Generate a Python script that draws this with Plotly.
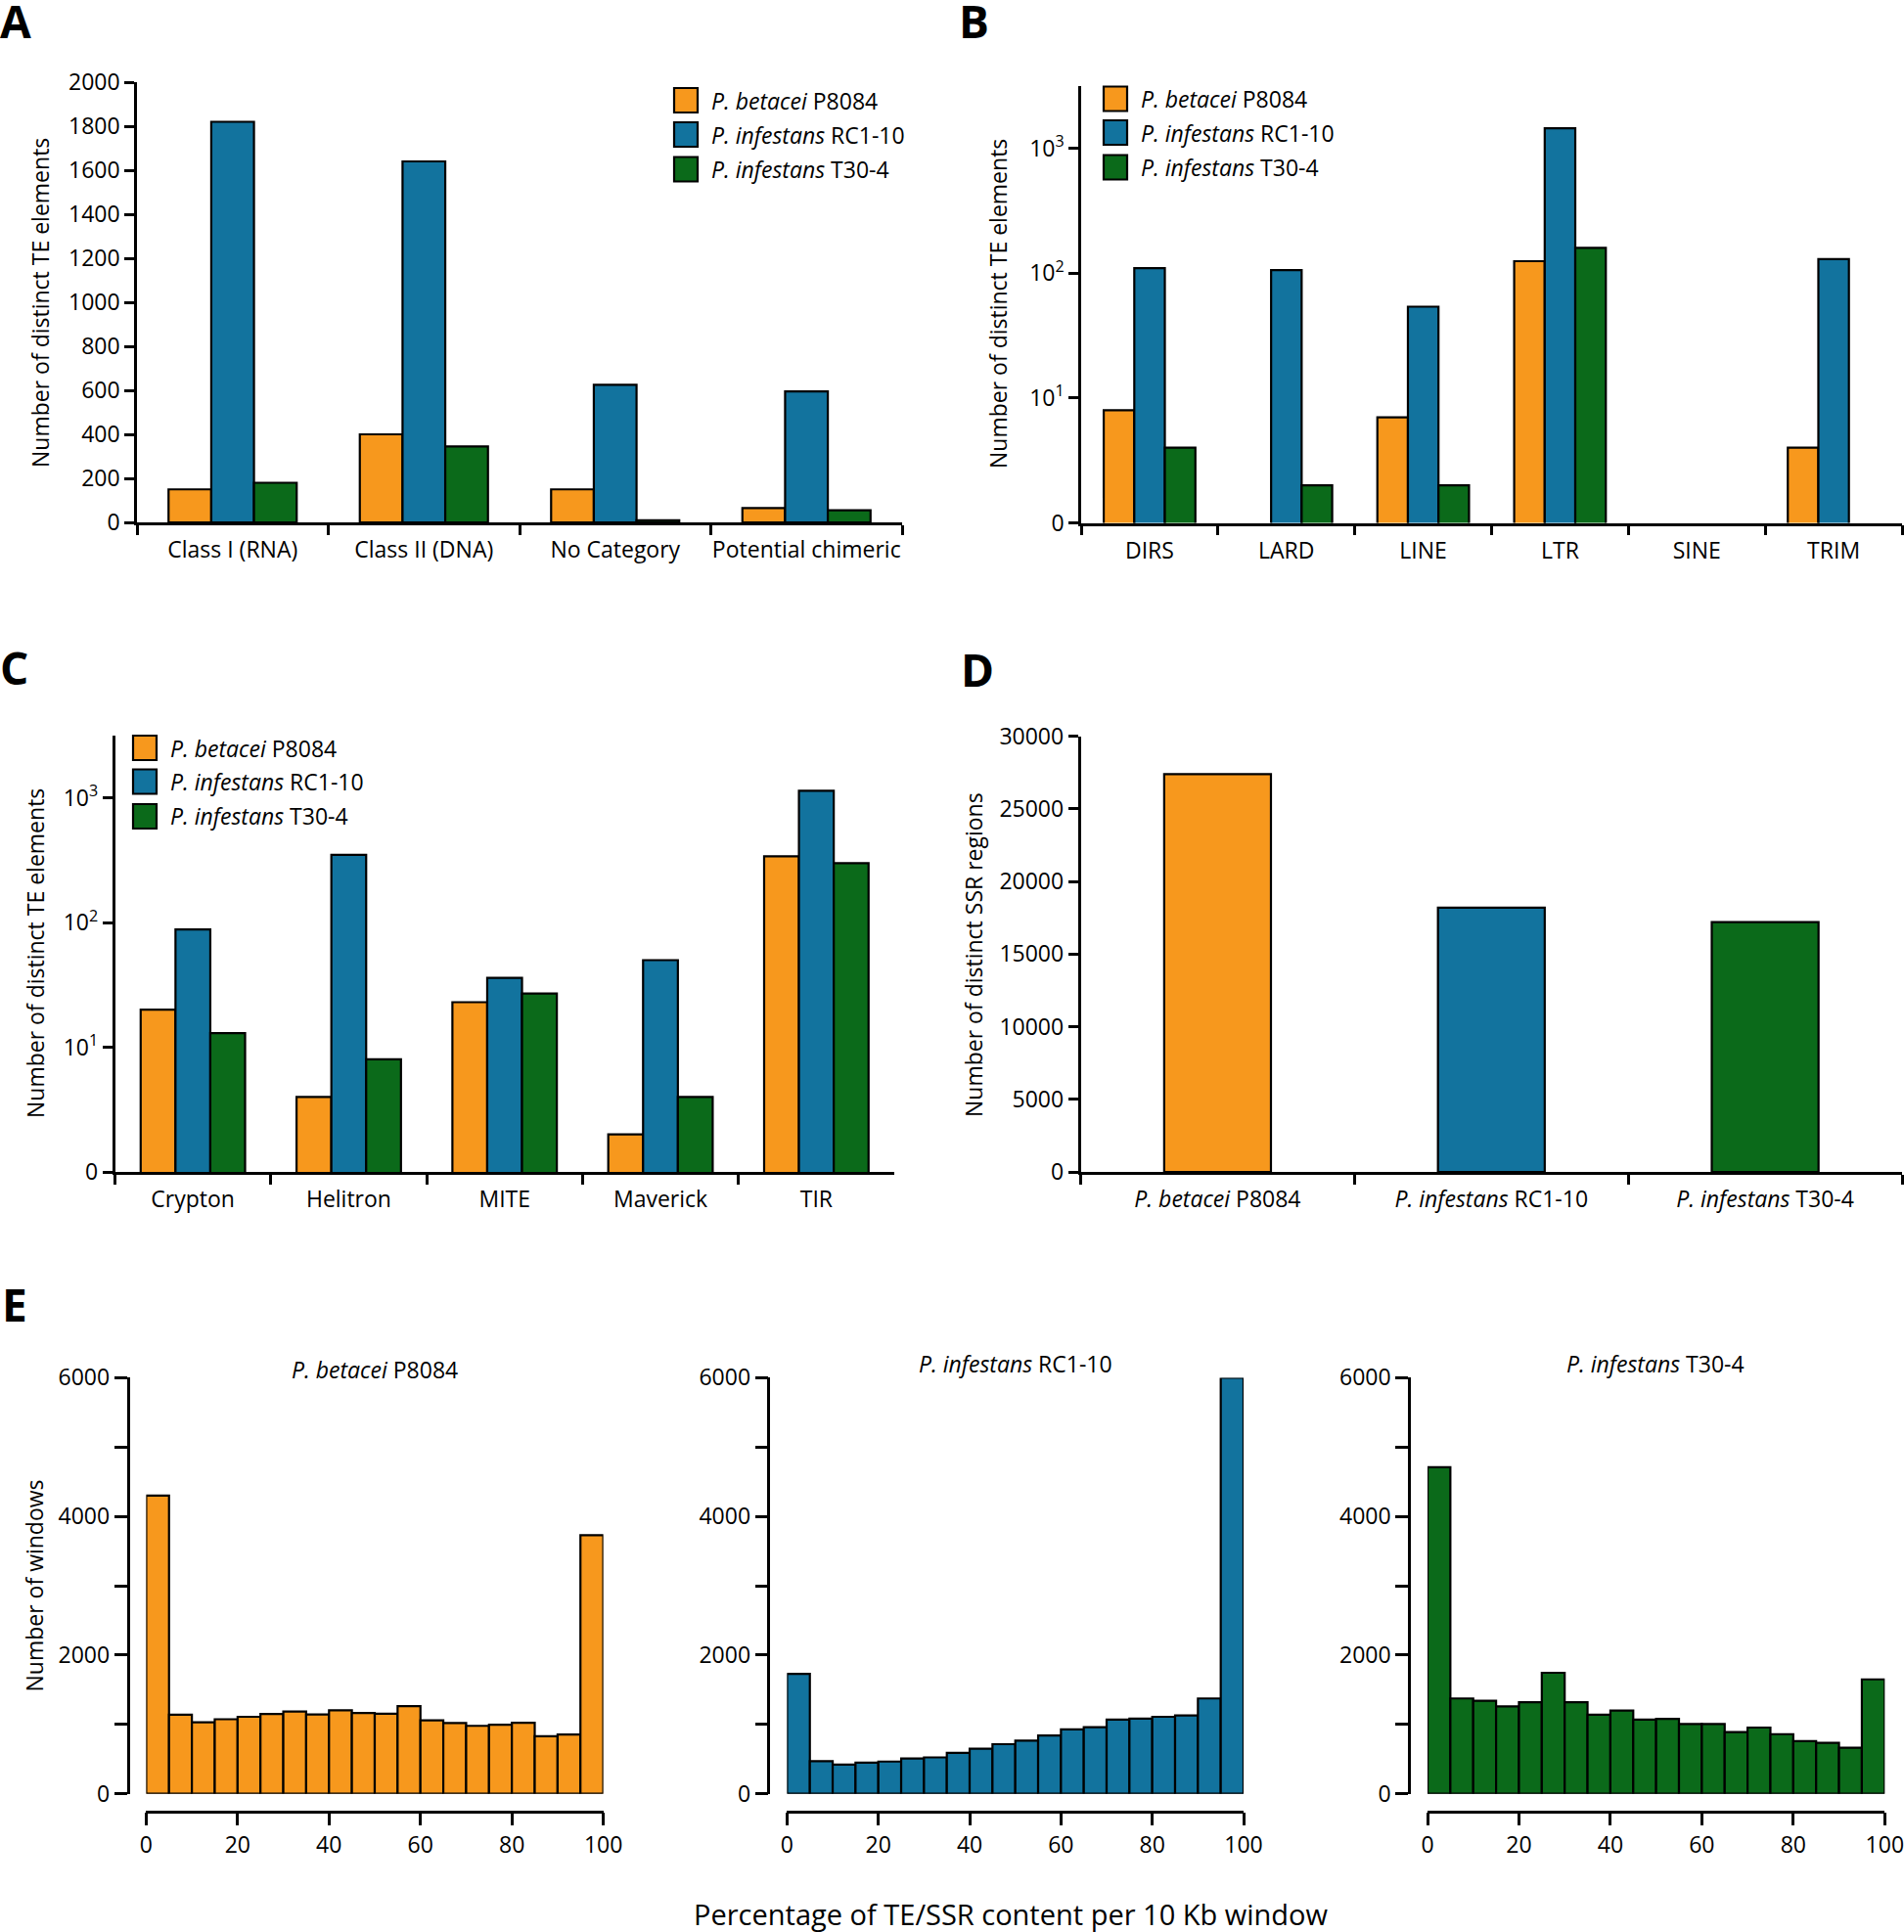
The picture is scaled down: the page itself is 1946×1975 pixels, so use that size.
import plotly.graph_objects as go

W, H = 1946, 1975
FONT = "Open Sans"
FS = 23

# ---------------- data ----------------
series_names = ["<i>P. betacei</i> P8084", "<i>P. infestans</i> RC1-10", "<i>P. infestans</i> T30-4"]
colors = ["#F7981D", "#12739E", "#0B6A1A"]

a_categories = ["Class I (RNA)", "Class II (DNA)", "No Category", "Potential chimeric"]
a_betacei = [150, 400, 150, 65]
a_rc110 = [1820, 1640, 625, 595]
a_t304 = [180, 345, 10, 55]

b_categories = ["DIRS", "LARD", "LINE", "LTR", "SINE", "TRIM"]
b_betacei = [8, None, 7, 125, None, 4]
b_rc110 = [110, 106, 54, 1450, None, 130]
b_t304 = [4, 2, 2, 160, None, None]

c_categories = ["Crypton", "Helitron", "MITE", "Maverick", "TIR"]
c_betacei = [20, 4, 23, 2, 340]
c_rc110 = [88, 350, 36, 50, 1140]
c_t304 = [13, 8, 27, 4, 300]

d_categories = ["P. betacei P8084", "P. infestans RC1-10", "P. infestans T30-4"]
d_labels = ["<i>P. betacei</i> P8084", "<i>P. infestans</i> RC1-10", "<i>P. infestans</i> T30-4"]
d_values = [27400, 18200, 17200]

e_bin_starts = [0, 5, 10, 15, 20, 25, 30, 35, 40, 45, 50, 55, 60, 65, 70, 75, 80, 85, 90, 95]
e_bin_width = 5
e_betacei = [4300, 1140, 1030, 1075, 1110, 1150, 1185, 1145, 1205, 1165, 1155, 1265,
             1060, 1020, 980, 995, 1025, 830, 855, 3730]
e_rc110 = [1730, 470, 420, 450, 465, 510, 525, 590, 650, 715, 765, 840,
           930, 960, 1070, 1085, 1110, 1130, 1375, 6000]
e_t304 = [4710, 1375, 1340, 1260, 1320, 1745, 1320, 1140, 1200, 1070, 1080, 1005,
          1005, 890, 955, 860, 760, 735, 665, 1650]
e_titles = ["<i>P. betacei</i> P8084", "<i>P. infestans</i> RC1-10", "<i>P. infestans</i> T30-4"]

log_tickvals = [1, 10, 100, 1000]
log_ticktext = ["0", "10<sup>1</sup>", "10<sup>2</sup>", "10<sup>3</sup>"]


def fx(px):
    return px / W


def fy(py):
    return 1 - py / H


fig = go.Figure()
OUT = dict(color="black", width=2.2)

# Panels A-C grouped bars
for (ax, cats, vals) in [
    ("1", a_categories, [a_betacei, a_rc110, a_t304]),
    ("2", b_categories, [b_betacei, b_rc110, b_t304]),
    ("3", c_categories, [c_betacei, c_rc110, c_t304]),
]:
    for name, col, v in zip(series_names, colors, vals):
        fig.add_trace(go.Bar(
            x=cats, y=v, name=name, marker=dict(color=col, line=OUT),
            xaxis="x" if ax == "1" else "x" + ax,
            yaxis="y" if ax == "1" else "y" + ax,
            showlegend=False,
        ))

# Panel D
fig.add_trace(go.Bar(
    x=d_categories, y=d_values, width=0.39,
    marker=dict(color=colors, line=OUT),
    xaxis="x4", yaxis="y4", showlegend=False,
))

# Panel E histograms
for i, (vals, col) in enumerate(zip([e_betacei, e_rc110, e_t304], colors)):
    fig.add_trace(go.Bar(
        x=e_bin_starts, y=vals, width=e_bin_width, offset=0,
        marker=dict(color=col, line=OUT),
        xaxis="x%d" % (5 + i), yaxis="y%d" % (5 + i), showlegend=False,
    ))

tickfont = dict(size=FS, color="black", family=FONT)
base_axis = dict(showline=True, linewidth=2.5, linecolor="black", ticks="outside",
                 tickwidth=2.5, ticklen=10, tickcolor="black", showgrid=False,
                 zeroline=False, tickfont=tickfont, fixedrange=True,
                 automargin=False, tickangle=0, ticklabeloverflow="allow")


def cat_axis(cats, x0, x1, anchor, ticktext=None):
    d = dict(base_axis, type="category", categoryorder="array", categoryarray=cats,
             tickson="boundaries", range=[-0.5, len(cats) - 0.5],
             ticklabelstandoff=6,
             domain=[fx(x0), fx(x1)], anchor=anchor)
    if ticktext is not None:
        d.update(tickmode="array", tickvals=cats, ticktext=ticktext)
    return d


layout = dict(
    width=W, height=H, margin=dict(l=0, r=0, t=0, b=0, pad=0, autoexpand=False),
    paper_bgcolor="white", plot_bgcolor="white",
    barmode="group", bargap=0.33, bargroupgap=0,
    font=dict(family=FONT, color="black", size=FS),
    showlegend=False,
)

# A
layout["xaxis"] = cat_axis(a_categories, 140, 922, "y")
layout["yaxis"] = dict(base_axis, range=[0, 2000], tickmode="linear", tick0=0, dtick=200,
                       domain=[fy(534), fy(84)], anchor="x")
# B
layout["xaxis2"] = cat_axis(b_categories, 1105, 1944, "y2")
layout["yaxis2"] = dict(base_axis, type="log", range=[0, 3.5], tickmode="array",
                        tickvals=log_tickvals, ticktext=log_ticktext,
                        domain=[fy(534.5), fy(88)], anchor="x2")
# C
layout["xaxis3"] = cat_axis(c_categories, 117.5, 914, "y3")
layout["yaxis3"] = dict(base_axis, type="log", range=[0, 3.5], tickmode="array",
                        tickvals=log_tickvals, ticktext=log_ticktext,
                        domain=[fy(1198), fy(752)], anchor="x3")
# D
layout["xaxis4"] = cat_axis(d_categories, 1104.5, 1944, "y4", ticktext=d_labels)
layout["yaxis4"] = dict(base_axis, range=[0, 30000], tickmode="linear", tick0=0, dtick=5000,
                        tickformat="d",
                        domain=[fy(1198), fy(752.7)], anchor="x4")

# E
e_geom = [(130.5, 149.4, 616.6), (785.4, 804.4, 1271.0), (1440.0, 1459.0, 1926.3)]
for i, (yax_x, x0, x1) in enumerate(e_geom):
    n = 5 + i
    layout["xaxis%d" % n] = dict(base_axis, range=[0, 100], tickmode="linear", tick0=0, dtick=20,
                                 ticklen=13,
                                 domain=[fx(x0), fx(x1)], anchor="free",
                                 position=fy(1851.7))
    layout["yaxis%d" % n] = dict(base_axis, range=[0, 6000], tickmode="linear", tick0=0, dtick=2000,
                                 ticklen=13,
                                 minor=dict(dtick=1000, tick0=0, ticks="outside", ticklen=13,
                                            tickwidth=2.5, tickcolor="black", showgrid=False),
                                 domain=[fy(1833.7), fy(1408.4)], anchor="free",
                                 position=fx(yax_x))

annotations = []
shapes = []


def ann(text, x, y, size=FS, xanchor="center", yanchor="middle", angle=0, bold=False):
    annotations.append(dict(
        text=("<b>%s</b>" % text) if bold else text,
        x=fx(x), y=fy(y), xref="paper", yref="paper", showarrow=False,
        xanchor=xanchor, yanchor=yanchor, textangle=angle,
        font=dict(size=size, family=FONT, color="black")))


# panel letters
for letter, x, y in [("A", -2, 21), ("B", 978, 21), ("C", -2, 682), ("D", 980, 684), ("E", 0, 1333)]:
    ann(letter, x, y, size=46, xanchor="left", bold=True)

# y titles
ann("Number of distinct TE elements", 41, 310, angle=-90)
ann("Number of distinct TE elements", 1020, 311, angle=-90)
ann("Number of distinct TE elements", 36, 975, angle=-90)
ann("Number of distinct SSR regions", 995, 976, angle=-90)
ann("Number of windows", 34.5, 1621, angle=-90)

# E subplot titles
for title, (cx, cy) in zip(e_titles, [(383, 1400), (1037.5, 1394), (1692, 1394)]):
    ann(title, cx, cy)

# common x title
ann("Percentage of TE/SSR content per 10 Kb window", 1033, 1956, size=29)

# legends (A, B, C)
for (sx, ys) in [(689, [102.5, 137.5, 173]), (1128, [101, 135.5, 171]), (136, [764.5, 799, 834.5])]:
    for name, col, yc in zip(series_names, colors, ys):
        shapes.append(dict(type="rect", xref="paper", yref="paper",
                           x0=fx(sx), x1=fx(sx + 24), y0=fy(yc + 12.5), y1=fy(yc - 12.5),
                           fillcolor=col, line=dict(color="black", width=2.2)))
        ann(name, sx + 36, yc, xanchor="left")

layout["annotations"] = annotations
layout["shapes"] = shapes
fig.update_layout(**layout)

fig.write_html("out.html", config={"displayModeBar": False},
               post_script="document.body.style.margin='0px';document.body.style.overflow='hidden';")
